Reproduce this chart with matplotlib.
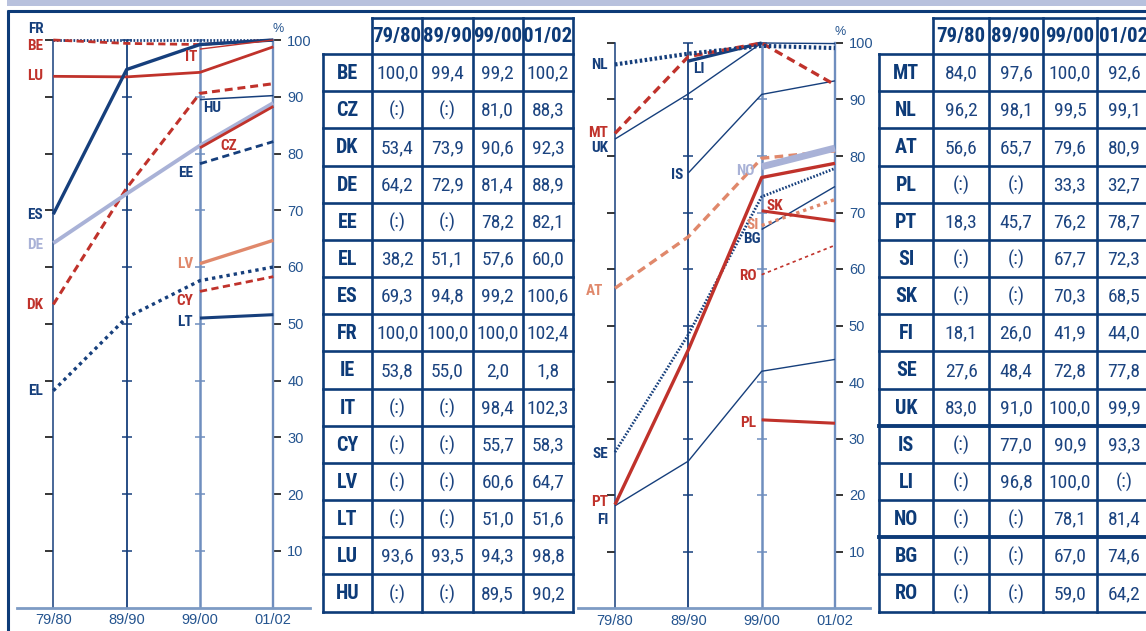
import matplotlib
matplotlib.use('Agg')
import matplotlib.pyplot as plt
from matplotlib import font_manager as fm

# ---- data -------------------------------------------------------------
periods = ['79/80', '89/90', '99/00', '01/02']

left_codes = ['BE', 'CZ', 'DK', 'DE', 'EE', 'EL', 'ES', 'FR', 'IE', 'IT', 'CY', 'LV', 'LT', 'LU', 'HU']
left_values = [
    [100.0, 99.4, 99.2, 100.2],
    [None, None, 81.0, 88.3],
    [53.4, 73.9, 90.6, 92.3],
    [64.2, 72.9, 81.4, 88.9],
    [None, None, 78.2, 82.1],
    [38.2, 51.1, 57.6, 60.0],
    [69.3, 94.8, 99.2, 100.6],
    [100.0, 100.0, 100.0, 102.4],
    [53.8, 55.0, 2.0, 1.8],
    [None, None, 98.4, 102.3],
    [None, None, 55.7, 58.3],
    [None, None, 60.6, 64.7],
    [None, None, 51.0, 51.6],
    [93.6, 93.5, 94.3, 98.8],
    [None, None, 89.5, 90.2],
]

right_codes = ['MT', 'NL', 'AT', 'PL', 'PT', 'SI', 'SK', 'FI', 'SE', 'UK', 'IS', 'LI', 'NO', 'BG', 'RO']
right_values = [
    [84.0, 97.6, 100.0, 92.6],
    [96.2, 98.1, 99.5, 99.1],
    [56.6, 65.7, 79.6, 80.9],
    [None, None, 33.3, 32.7],
    [18.3, 45.7, 76.2, 78.7],
    [None, None, 67.7, 72.3],
    [None, None, 70.3, 68.5],
    [18.1, 26.0, 41.9, 44.0],
    [27.6, 48.4, 72.8, 77.8],
    [83.0, 91.0, 100.0, 99.9],
    [None, 77.0, 90.9, 93.3],
    [None, 96.8, 100.0, None],
    [None, None, 78.1, 81.4],
    [None, None, 67.0, 74.6],
    [None, None, 59.0, 64.2],
]

# countries drawn in each chart
left_plotted = ['FR', 'BE', 'LU', 'ES', 'IT', 'DK', 'HU', 'DE', 'CZ', 'EE', 'LV', 'EL', 'CY', 'LT']
right_plotted = ['FI', 'SE', 'UK', 'IS', 'BG', 'AT', 'SI', 'RO', 'NO', 'PT', 'PL', 'SK', 'LI', 'MT', 'NL']

# ---- fonts: use a narrow face if one is installed ----------------------
names = sorted({f.name for f in fm.fontManager.ttflist})
narrow = [n for n in ['Liberation Sans Narrow', 'Roboto Condensed', 'Open Sans Condensed',
                      'Noto Sans Condensed', 'Arial Narrow'] if n in names]
narrow += [n for n in names if ('Narrow' in n or 'Condensed' in n) and n not in narrow]
if narrow:
    cond, k = narrow[0], 1.0
else:
    cond, k = 'Liberation Sans', 0.8
plt.rcParams['font.family'] = [cond, 'DejaVu Sans']

# ---- styles -----------------------------------------------------------
navy = '#163f7c'
red = '#c0322b'
salmon = '#e0886b'
lav = '#a9b2d7'
axis_light = '#6f8ebe'
tick_txt = '#24548f'
tbl = '#0d3b78'

dash = (0, (2.6, 1.6))
dot = (0, (1, 1.2))
fine_dot = (0, (0.6, 0.6))

# code: (colour, linestyle, width, label dx, label dy, label ha)
left_style = {
    'FR': (navy, fine_dot, 2.0, -10, 11, 'right'),
    'BE': (red, dash, 2.0, -10, -6, 'right'),
    'LU': (red, '-', 2.0, -10, 0, 'right'),
    'ES': (navy, '-', 2.4, -10, -1, 'right'),
    'IT': (red, '-', 1.0, -3, -8, 'right'),
    'DK': (red, dash, 2.2, -10, -1, 'right'),
    'HU': (navy, '-', 1.1, 3, -8, 'left'),
    'DE': (lav, '-', 2.8, -10, -2, 'right'),
    'CZ': (red, '-', 2.0, 20, 2, 'left'),
    'EE': (navy, dash, 2.0, -7, -9, 'right'),
    'LV': (salmon, '-', 2.4, -7, 0, 'right'),
    'EL': (navy, dot, 2.4, -10, 0, 'right'),
    'CY': (red, dash, 2.0, -7, -10, 'right'),
    'LT': (navy, '-', 2.2, -7, -4, 'right'),
}

right_style = {
    'NL': (navy, fine_dot, 3.0, -7, -1, 'right'),
    'MT': (red, dash, 2.4, -7, 0, 'right'),
    'UK': (navy, '-', 1.0, -7, -9, 'right'),
    'AT': (salmon, dash, 2.4, -12, -3, 'right'),
    'SE': (navy, fine_dot, 2.0, -7, -2, 'right'),
    'PT': (red, '-', 2.4, -7, 3, 'right'),
    'FI': (navy, '-', 1.0, -7, -14, 'right'),
    'LI': (navy, '-', 2.4, 5, -8, 'left'),
    'IS': (navy, '-', 1.0, -5, -2, 'right'),
    'NO': (lav, '-', 5.0, -7, -4, 'right'),
    'SK': (red, '-', 2.2, 5, 5, 'left'),
    'SI': (salmon, dot, 2.4, -3, 0, 'right'),
    'BG': (navy, '-', 1.0, -1, -10, 'right'),
    'RO': (red, (0, (2, 2)), 1.2, -5, -1, 'right'),
    'PL': (red, '-', 2.2, -5, -3, 'right'),
}

W, H = 1146, 631
fig = plt.figure(figsize=(W / 100, H / 100), dpi=100)

# background / frame in pixel coordinates
bg = fig.add_axes([0, 0, 1, 1])
bg.set_xlim(0, W)
bg.set_ylim(H, 0)
bg.axis('off')
bg.fill_between([7, W], 0, 6, color='#b8c1dd', lw=0)
bg.plot([7, W], [11, 11], color=tbl, lw=2.2, solid_capstyle='butt')
bg.plot([8, 8], [10, H], color=tbl, lw=2.2, solid_capstyle='butt')


def fmt(v):
    return '(:)' if v is None else f'{v:.1f}'.replace('.', ',')


def draw_table(edges, codes, values, thick_after=()):
    top, head_bot, bot = 17.5, 54.0, 611.5
    rh = (bot - head_bot) / len(codes)
    lw = 1.9
    # header
    bg.plot([edges[1], edges[-1]], [top, top], color=tbl, lw=lw, solid_capstyle='projecting')
    for i, p in enumerate(periods):
        bg.text((edges[i + 1] + edges[i + 2]) / 2, (top + head_bot) / 2 + 1, p,
                ha='center', va='center', fontsize=15 * k, fontweight='bold', color=tbl)
    # row lines
    for r in range(len(codes) + 1):
        y = head_bot + r * rh
        w = 2.8 if (r - 1) in thick_after else lw
        bg.plot([edges[0], edges[-1]], [y, y], color=tbl, lw=w, solid_capstyle='projecting')
    # vertical lines
    bg.plot([edges[0], edges[0]], [head_bot, bot], color=tbl, lw=lw)
    for x in edges[1:]:
        bg.plot([x, x], [top, bot], color=tbl, lw=lw)
    for r, (c, vals) in enumerate(zip(codes, values)):
        yc = head_bot + (r + 0.5) * rh + 1
        bg.text((edges[0] + edges[1]) / 2, yc, c, ha='center', va='center',
                fontsize=14.5 * k, fontweight='bold', color=tbl)
        for i, v in enumerate(vals):
            bg.text((edges[i + 1] + edges[i + 2]) / 2, yc, fmt(v), ha='center', va='center',
                    fontsize=14 * k, color='#1c4480')


def draw_chart(x0, x3, bx0, bx1, y100, y0, codes, values, plotted, styles):
    top = 14
    ppu = (y0 - y100) / 100
    dx = (x3 - x0) / 3
    ax = fig.add_axes([bx0 / W, 1 - y0 / H, (bx1 - bx0) / W, (y0 - top) / H])
    ax.set_xlim((bx0 - x0) / dx, (bx1 - x0) / dx)
    ax.set_ylim(0, (y0 - top) / ppu)
    ax.patch.set_visible(False)

    ax.spines['top'].set_visible(False)
    ax.spines['left'].set_position(('data', 0))
    ax.spines['left'].set_bounds(0, 100)
    ax.spines['left'].set_color(navy)
    ax.spines['left'].set_linewidth(1.1)
    ax.spines['right'].set_position(('data', 3))
    ax.spines['right'].set_bounds(0, 100)
    ax.spines['right'].set_color(axis_light)
    ax.spines['right'].set_linewidth(1.7)
    ax.spines['bottom'].set_color('#7d9bc4')
    ax.spines['bottom'].set_linewidth(2.0)

    ax.set_yticks(range(10, 101, 10))
    ax.yaxis.set_ticks_position('both')
    ax.tick_params(axis='y', direction='out', length=6, width=1.1, labelleft=False,
                   labelright=True, labelsize=10.5, labelcolor=tick_txt, pad=4)
    for t in ax.yaxis.get_major_ticks():
        t.tick1line.set_color(navy)
        t.tick2line.set_color(axis_light)
        t.label2.set_family('Liberation Sans')
    ax.set_xticks(range(4), periods)
    ax.tick_params(axis='x', length=0, pad=4, labelsize=10.5, labelcolor=tick_txt)
    for lab in ax.get_xticklabels():
        lab.set_family('Liberation Sans')

    ax.vlines(1, 0, 100, color=navy, lw=1.3, zorder=1)
    ax.vlines(2, 0, 100, color=axis_light, lw=1.8, zorder=1)
    ax.plot([1] * 10, range(10, 101, 10), ls='none', marker='_', ms=7, mew=1.1, color=navy, zorder=1)
    ax.plot([2] * 10, range(10, 101, 10), ls='none', marker='_', ms=7, mew=1.1, color=axis_light, zorder=1)

    ax.annotate('%', xy=(3, 100), xytext=(5, 11), textcoords='offset pixels', ha='center',
                va='center', fontsize=9, color=tick_txt, family='Liberation Sans')

    data = dict(zip(codes, values))
    for c in plotted:
        col, ls, lw, ldx, ldy, ha = styles[c]
        xs = [i for i, v in enumerate(data[c]) if v is not None]
        ys = [min(v, 100) for v in data[c] if v is not None]
        ax.plot(xs, ys, color=col, ls=ls, lw=lw, clip_on=False, zorder=3,
                solid_capstyle='butt', dash_capstyle='butt')
        ax.annotate(c, xy=(xs[0], ys[0]), xytext=(ldx, ldy), textcoords='offset pixels',
                    ha=ha, va='center', fontsize=11 * k, fontweight='bold', color=col)
    return ax


draw_chart(53.3, 273.3, 17, 310, 40, 607.5, left_codes, left_values, left_plotted, left_style)
draw_chart(615, 835, 578, 870, 43, 608, right_codes, right_values, right_plotted, right_style)

draw_table([322.7, 372.3, 422.3, 472.7, 522.7, 573.3], left_codes, left_values)
draw_table([879.3, 933.3, 989, 1043, 1097, 1151], right_codes, right_values, thick_after=(9, 12))

fig.savefig('out.png', dpi=100)
